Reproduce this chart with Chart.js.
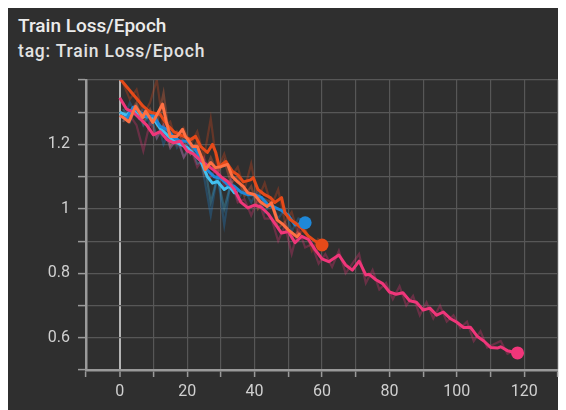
<!DOCTYPE html>
<html><head><meta charset="utf-8">
<script src="https://cdn.jsdelivr.net/npm/chart.js@4"></script>
<style>
html,body{margin:0;padding:0;background:#fff;width:566px;height:410px;overflow:hidden}
#card{position:absolute;left:8px;top:8px;width:550px;height:402px;background:#2f2f2f}
#t1{position:absolute;left:18px;top:14px;font:500 19px Roboto,sans-serif;color:#ececec;white-space:nowrap}
#t2{position:absolute;left:18px;top:41px;font:500 17.5px Roboto,sans-serif;letter-spacing:0.8px;color:#e2e2e2;white-space:nowrap}
canvas{position:absolute;left:0;top:0}
</style></head>
<body>
<div id="card"></div>
<div id="t1">Train Loss/Epoch</div>
<div id="t2">tag: Train Loss/Epoch</div>
<canvas id="c" width="566" height="410"></canvas>
<script>
// ---- data ----
const xTickLabels = [0, 20, 40, 60, 80, 100, 120];
const yTickLabels = [0.6, 0.8, 1, 1.2];

// pink run
const pinkEpochs = [0,2,4,6,8,10,12,14,16,18,20,22,24,26,28,30,32,34,36,38,40,42,44,46,48,50,52,54,56,58,60,62,65,67,69,71,73,74,76,78,80,82,84,86,88,90,92,94,96,98,100,102,104,106,108,110,112,113,115,118];
const pinkLoss = [1.345,1.31,1.30,1.28,1.26,1.23,1.24,1.215,1.205,1.21,1.18,1.17,1.15,1.135,1.12,1.10,1.085,1.06,1.02,1.003,1.012,1.005,0.985,0.955,0.925,0.93,0.895,0.915,0.905,0.873,0.845,0.836,0.857,0.826,0.81,0.838,0.795,0.797,0.78,0.768,0.742,0.735,0.74,0.715,0.71,0.686,0.692,0.67,0.68,0.66,0.648,0.632,0.633,0.605,0.59,0.57,0.568,0.572,0.56,0.553];
const pinkRawEpochs = [1,3,5,7,9,11,13,15,17,19,21,23,25,27,29,31,33,35,37,39,41,43,45,47,49,51,53,55,57,59,61,63,65,67,69,71,73,75,77,79,81,83,85,87,89,91,93,95,97,99,101,103,105,107,109,111,113,115,117];
const pinkRawLoss = [1.33,1.29,1.26,1.18,1.27,1.22,1.26,1.19,1.22,1.16,1.19,1.13,1.16,1.10,1.13,1.07,1.09,1.02,1.03,0.98,1.03,0.97,0.97,0.90,0.95,0.86,0.94,0.88,0.89,0.83,0.86,0.82,0.87,0.80,0.83,0.86,0.77,0.81,0.75,0.77,0.72,0.76,0.70,0.73,0.67,0.71,0.66,0.70,0.65,0.67,0.63,0.65,0.59,0.62,0.57,0.58,0.59,0.55,0.56];

// blue run
const blueEpochs = [0,2,4,6,8,10,12,14,16,18,20,22,24,26,28,30,32,34,36,38,40,42,44,46,48,50,52,54,55];
const blueLoss = [1.29,1.28,1.315,1.30,1.285,1.29,1.256,1.247,1.222,1.21,1.21,1.19,1.16,1.12,1.10,1.095,1.075,1.07,1.052,1.044,1.044,1.036,1.012,1.005,0.995,0.98,0.95,0.955,0.957];
const blueRawEpochs = [1,3,5,7,9,11,13,15,17,19,21,23,25,27,29,31,33,35,37,39,41,43,45,47,49,51,53,55];
const blueRawLoss = [1.27,1.33,1.29,1.31,1.26,1.28,1.20,1.25,1.19,1.22,1.17,1.19,1.10,0.98,1.11,0.95,1.09,1.03,1.06,1.02,1.06,0.99,1.02,0.97,1.00,0.93,0.97,0.96];

// light blue run
const cyanEpochs = [0,2,4,6,8,10,12,14,16,18,20,22,24,26,27.5,29,31,32.5,34,35];
const cyanLoss = [1.30,1.29,1.31,1.28,1.29,1.28,1.25,1.23,1.21,1.20,1.19,1.17,1.15,1.10,1.08,1.085,1.06,1.07,1.05,1.05];
const cyanRawEpochs = [1,3,5,7,9,11,13,15,17,19,21,23,25,27,29,31,33,35];
const cyanRawLoss = [1.31,1.27,1.32,1.26,1.30,1.22,1.26,1.19,1.22,1.16,1.20,1.14,1.15,1.02,1.10,1.00,1.08,1.04];

// red run
const redEpochs = [0,2,4,6,7,9,12,14,16,18,21,22.5,24,26,27.5,28.5,29.5,31.5,33.5,35,36.7,38.8,39.6,41,43,44.7,46,48,49,50.6,52,54,56,58,60];
const redLoss = [1.405,1.38,1.355,1.33,1.318,1.30,1.293,1.262,1.24,1.23,1.215,1.225,1.194,1.175,1.2,1.175,1.131,1.147,1.116,1.106,1.084,1.09,1.097,1.06,1.044,1.035,1.02,1.035,0.988,0.966,0.957,0.94,0.915,0.90,0.888];
const redRawEpochs = [1,3,5,7,9,11,13,15,17,19,21,23,25,27,29,31,33,35,37,39,41,43,45,47,49,51,53,55,57,59];
const redRawLoss = [1.39,1.34,1.37,1.29,1.33,1.40,1.25,1.27,1.20,1.25,1.20,1.24,1.16,1.28,1.12,1.17,1.10,1.13,1.06,1.14,1.03,1.08,1.01,1.06,0.96,0.99,0.92,0.94,0.87,0.91];

// orange run
const orangeEpochs = [0,1,2.7,4.7,6.8,7.7,9.8,12.7,14,15,17,18.6,19.5,21.6,23,24.5,25.4,27,28.4,30,32,33.4,35,36.7,38,40,41.7,43.7,45,46.7,48.5,50,52.6,53.5];
const orangeLoss = [1.29,1.284,1.27,1.318,1.284,1.303,1.268,1.325,1.262,1.225,1.225,1.247,1.225,1.194,1.194,1.155,1.122,1.144,1.128,1.131,1.138,1.10,1.084,1.069,1.05,1.044,1.022,1.007,1.019,0.966,0.951,0.935,0.913,0.925];
const orangeRawEpochs = [1,3,5,7,9,11,13,15,17,19,21,23,25,27,29,31,33,35,37,39,41,43,45,47,49,51,53];
const orangeRawLoss = [1.27,1.30,1.33,1.27,1.31,1.26,1.36,1.20,1.24,1.21,1.17,1.21,1.11,1.16,1.11,1.15,1.08,1.10,1.04,1.07,1.00,1.03,1.02,0.94,0.96,0.91,0.93];

// ---- build chart ----
function pts(xs, ys){ return xs.map((x,i)=>({x:x, y:ys[i]})); }
function rgba(hex,a){const n=parseInt(hex.slice(1),16);return `rgba(${n>>16},${(n>>8)&255},${n&255},${a})`;}

const runs = [
  {c:'#ff7043', e:orangeEpochs, v:orangeLoss, re:orangeRawEpochs, rv:orangeRawLoss, dot:false, order:1},
  {c:'#f0367a', e:pinkEpochs, v:pinkLoss, re:pinkRawEpochs, rv:pinkRawLoss, dot:true, order:2},
  {c:'#e64a19', e:redEpochs, v:redLoss, re:redRawEpochs, rv:redRawLoss, dot:true, order:3},
  {c:'#1f88d8', e:blueEpochs, v:blueLoss, re:blueRawEpochs, rv:blueRawLoss, dot:true, order:4},
  {c:'#43c0f0', e:cyanEpochs, v:cyanLoss, re:cyanRawEpochs, rv:cyanRawLoss, dot:false, order:5},
];
const datasets = [];
runs.forEach(r=>{
  datasets.push({data:pts(r.re, r.rv), borderColor:rgba(r.c,0.3), borderWidth:2.2, pointRadius:0, tension:0, order:20+r.order});
  datasets.push({data:pts(r.e, r.v), borderColor:r.c, borderWidth:3, pointRadius:0, tension:0, order:10+r.order, borderJoinStyle:'round'});
  if (r.dot) {
    const last = r.e.length-1;
    datasets.push({data:[{x:r.e[last], y:r.v[last]}], showLine:false, pointRadius:6.5, pointBackgroundColor:r.c, pointBorderWidth:0, order:r.order});
  }
});

new Chart(document.getElementById('c'), {
  type:'line',
  data:{datasets},
  options:{
    responsive:false, animation:false, parsing:true,
    layout:{padding:{top:80, right:8, left:0, bottom:0}},
    plugins:{legend:{display:false}, tooltip:{enabled:false}},
    scales:{
      x:{type:'linear', min:-10, max:130,
        afterFit:s=>{s.height=40;},
        ticks:{stepSize:10, autoSkip:false, maxRotation:0, color:'#d0d0d0', font:{family:'Roboto', size:16}, padding:5,
          callback:v=> xTickLabels.includes(Math.round(v)) && Math.abs(v-Math.round(v))<1e-6 ? String(Math.round(v)) : ''},
        grid:{color:c=> c.tick && c.tick.value===0 ? '#b4b4b4' : '#575757',
              lineWidth:c=> c.tick && c.tick.value===0 ? 2 : 1.2,
              tickColor:'#9a9a9a', tickLength:7, tickWidth:1.5},
        border:{display:true, color:'#9a9a9a', width:2.5}
      },
      y:{type:'linear', min:0.5, max:1.4,
        afterFit:s=>{s.width=86;},
        ticks:{stepSize:0.1, autoSkip:false, color:'#d0d0d0', font:{family:'Roboto', size:16}, padding:8,
          callback:v=>{const r=Math.round(v*10)/10; return yTickLabels.some(t=>Math.abs(t-r)<1e-6) ? String(r) : '';}},
        grid:{color:'#575757', lineWidth:1.2, tickColor:'#9a9a9a', tickLength:8, tickWidth:1.5},
        border:{display:true, color:'#9a9a9a', width:2.5}
      }
    }
  }
});
</script>
</body></html>
